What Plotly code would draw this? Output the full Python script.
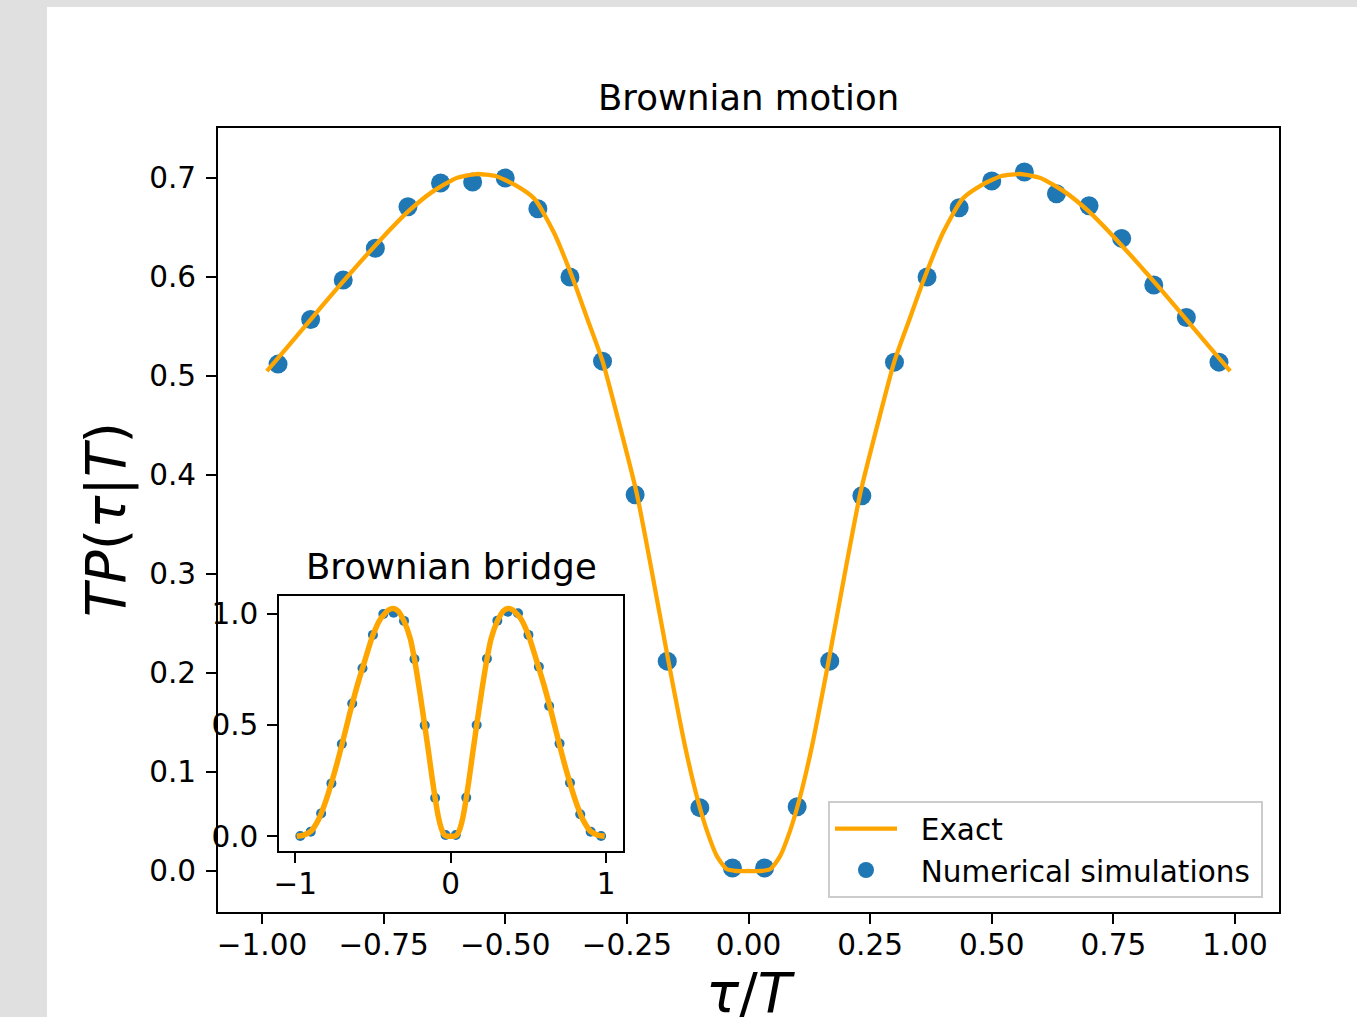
import plotly.graph_objects as go

W, H = 1357, 1017

# ---------------- data ----------------
sim_x = [-0.967, -0.900, -0.833, -0.767, -0.700, -0.633, -0.567, -0.500, -0.433, -0.367,
         -0.300, -0.233, -0.167, -0.100, -0.033, 0.033, 0.100, 0.167, 0.233, 0.300,
         0.367, 0.433, 0.500, 0.567, 0.633, 0.700, 0.767, 0.833, 0.900, 0.967]

bm_sim_y = [0.512, 0.557, 0.597, 0.629, 0.671, 0.695, 0.696, 0.700, 0.669, 0.600,
            0.515, 0.380, 0.212, 0.064, 0.003, 0.003, 0.065, 0.212, 0.379, 0.514,
            0.600, 0.670, 0.697, 0.706, 0.684, 0.672, 0.639, 0.592, 0.559, 0.514]

bb_sim_y = [0.001, 0.021, 0.103, 0.238, 0.415, 0.597, 0.756, 0.906, 1.000, 1.006,
            0.969, 0.797, 0.499, 0.172, 0.006, 0.006, 0.174, 0.501, 0.799, 0.970,
            1.010, 1.003, 0.906, 0.763, 0.586, 0.417, 0.241, 0.099, 0.021, 0.001]

bm_exact_x = [-0.99, -0.95, -0.90, -0.85, -0.80, -0.75, -0.70, -0.65, -0.60, -0.56,
              -0.52, -0.48, -0.44, -0.40, -0.36, -0.33, -0.30, -0.27, -0.23, -0.20,
              -0.165, -0.13, -0.105, -0.085, -0.065, -0.045, -0.025, 0.0,
              0.025, 0.045, 0.065, 0.085, 0.105, 0.13, 0.165, 0.20, 0.23, 0.27,
              0.30, 0.33, 0.36, 0.40, 0.44, 0.48, 0.52, 0.56, 0.60, 0.65,
              0.70, 0.75, 0.80, 0.85, 0.90, 0.95, 0.99]
bm_exact_y = [0.505, 0.528, 0.557, 0.586, 0.614, 0.641, 0.666, 0.686, 0.700, 0.704,
              0.702, 0.693, 0.679, 0.645, 0.597, 0.556, 0.515, 0.460, 0.382, 0.306,
              0.213, 0.125, 0.073, 0.040, 0.015, 0.002, 0.000, 0.000,
              0.000, 0.002, 0.015, 0.040, 0.073, 0.125, 0.213, 0.306, 0.382, 0.460,
              0.515, 0.556, 0.597, 0.645, 0.679, 0.693, 0.702, 0.704, 0.700, 0.686,
              0.666, 0.641, 0.614, 0.586, 0.557, 0.528, 0.505]

bb_exact_x = [-0.99, -0.95, -0.90, -0.85, -0.80, -0.75, -0.70, -0.65, -0.60, -0.55,
              -0.50, -0.45, -0.40, -0.37, -0.34, -0.30, -0.26, -0.233, -0.20, -0.167,
              -0.14, -0.12, -0.10, -0.08, -0.06, -0.04, -0.02, 0.0,
              0.02, 0.04, 0.06, 0.08, 0.10, 0.12, 0.14, 0.167, 0.20, 0.233,
              0.26, 0.30, 0.34, 0.37, 0.40, 0.45, 0.50, 0.55, 0.60, 0.65,
              0.70, 0.75, 0.80, 0.85, 0.90, 0.95, 0.99]
bb_exact_y = [0.000, 0.004, 0.022, 0.075, 0.165, 0.280, 0.410, 0.550, 0.680, 0.795,
              0.905, 0.980, 1.018, 1.025, 1.015, 0.968, 0.890, 0.797, 0.655, 0.499,
              0.367, 0.265, 0.172, 0.090, 0.035, 0.006, 0.000, 0.000,
              0.000, 0.006, 0.035, 0.090, 0.172, 0.265, 0.367, 0.499, 0.655, 0.797,
              0.890, 0.968, 1.015, 1.025, 1.018, 0.980, 0.905, 0.795, 0.680, 0.550,
              0.410, 0.280, 0.165, 0.075, 0.022, 0.004, 0.000]

main_xticks = [-1.0, -0.75, -0.5, -0.25, 0.0, 0.25, 0.5, 0.75, 1.0]
main_xtext = ["\u22121.00", "\u22120.75", "\u22120.50", "\u22120.25", "0.00", "0.25", "0.50", "0.75", "1.00"]
main_yticks = [0.0, 0.1, 0.2, 0.3, 0.4, 0.5, 0.6, 0.7]
main_ytext = ["0.0", "0.1", "0.2", "0.3", "0.4", "0.5", "0.6", "0.7"]
inset_xticks = [-1, 0, 1]
inset_xtext = ["\u22121", "0", "1"]
inset_yticks = [0.0, 0.5, 1.0]
inset_ytext = ["0.0", "0.5", "1.0"]

BLUE = "#1f77b4"
ORANGE = "#FFA500"
FONT = "DejaVu Sans"
TICK_SIZE = 29.5
TITLE_SIZE = 35.5
LABEL_SIZE = 55
NB = "\u00a0"

# ---------------- figure ----------------
fig = go.Figure()

fig.add_trace(go.Scatter(x=sim_x, y=bm_sim_y, mode="markers",
                         name=NB * 2 + "Numerical simulations" + "\u2009",
                         marker=dict(color=BLUE, size=19), legendrank=2,
                         xaxis="x", yaxis="y"))
fig.add_trace(go.Scatter(x=bm_exact_x, y=bm_exact_y, mode="lines",
                         name=NB * 2 + "Exact",
                         line=dict(color=ORANGE, width=4.3, shape="spline", smoothing=0.6),
                         legendrank=1, xaxis="x", yaxis="y"))

fig.add_trace(go.Scatter(x=sim_x, y=bb_sim_y, mode="markers", showlegend=False,
                         marker=dict(color=BLUE, size=10), xaxis="x2", yaxis="y2"))
fig.add_trace(go.Scatter(x=bb_exact_x, y=bb_exact_y, mode="lines", showlegend=False,
                         line=dict(color=ORANGE, width=5.5, shape="spline", smoothing=0.6),
                         xaxis="x2", yaxis="y2"))

axis_common = dict(showline=True, linecolor="black", linewidth=2, mirror=True,
                   ticks="outside", ticklen=10, tickwidth=2, tickcolor="black",
                   showgrid=False, zeroline=False, automargin=False,
                   tickfont=dict(family=FONT, size=TICK_SIZE, color="black"))

fig.update_layout(
    width=W, height=H,
    margin=dict(l=0, r=0, t=0, b=0),
    paper_bgcolor="#e0e0e0",
    plot_bgcolor="white",
    showlegend=True,
    xaxis=dict(domain=[218 / W, 1279 / W], range=[-1.0904, 1.0904],
               tickvals=main_xticks, ticktext=main_xtext, ticklabelstandoff=-4,
               anchor="y", **axis_common),
    yaxis=dict(domain=[1 - 912 / H, 1 - 128 / H], range=[-0.0414, 0.7505],
               tickvals=main_yticks, ticktext=main_ytext, ticklabelstandoff=4,
               anchor="x", **axis_common),
    xaxis2=dict(domain=[279.3 / W, 622.7 / W], range=[-1.102, 1.106],
                tickvals=inset_xticks, ticktext=inset_xtext, ticklabelstandoff=-4,
                anchor="y2", **axis_common),
    yaxis2=dict(domain=[1 - 850.7 / H, 1 - 595.7 / H], range=[-0.0648, 1.0823],
                tickvals=inset_yticks, ticktext=inset_ytext, ticklabelstandoff=3,
                anchor="x2", **axis_common),
    legend=dict(x=1263 / W, y=1 - 801 / H, xanchor="right", yanchor="top",
                bgcolor="white", bordercolor="#cccccc", borderwidth=2,
                font=dict(family=FONT, size=TICK_SIZE, color="black"),
                itemwidth=62, tracegroupgap=0),
    shapes=[dict(type="rect", xref="paper", yref="paper", x0=47 / W, x1=1.0,
                 y0=0.0, y1=1 - 7 / H, fillcolor="white", line=dict(width=0),
                 layer="below")],
    annotations=[
        dict(text="Brownian motion", x=748.5 / W, y=1 - 98 / H, xref="paper", yref="paper",
             showarrow=False, xanchor="center", yanchor="middle",
             font=dict(family=FONT, size=TITLE_SIZE, color="black")),
        dict(text="Brownian bridge", x=451 / W, y=1 - 566 / H, xref="paper", yref="paper",
             showarrow=False, xanchor="center", yanchor="middle",
             font=dict(family=FONT, size=TITLE_SIZE, color="black")),
        dict(text="<i>\u03c4</i>/<i>T</i>", x=751 / W, y=1 - 993 / H, xref="paper", yref="paper",
             showarrow=False, xanchor="center", yanchor="middle",
             font=dict(family=FONT, size=LABEL_SIZE, color="black")),
        dict(text="<i>TP</i>(<i>\u03c4</i>|<i>T</i>)", x=106 / W, y=1 - 520 / H,
             xref="paper", yref="paper", textangle=-90,
             showarrow=False, xanchor="center", yanchor="middle",
             font=dict(family=FONT, size=LABEL_SIZE, color="black")),
    ],
)

fig.write_html("out.html", config={"displayModeBar": False},
               post_script="document.body.style.margin='0px';document.body.style.overflow='hidden';")
